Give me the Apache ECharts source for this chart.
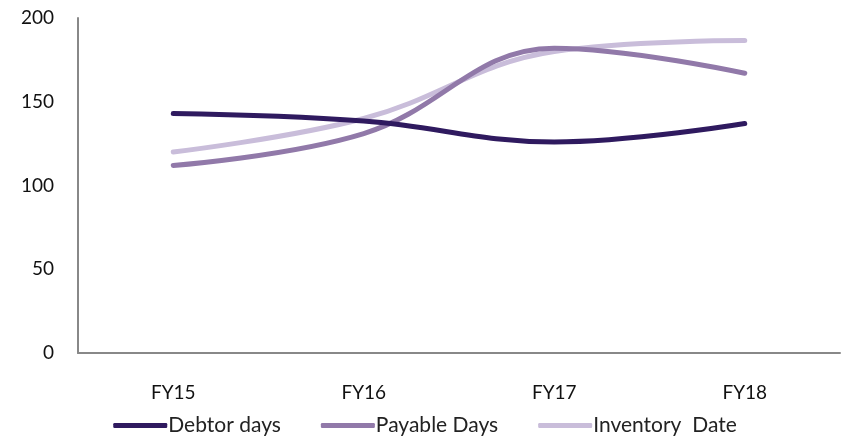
<!DOCTYPE html>
<html>
<head>
<meta charset="utf-8">
<script src="https://cdn.jsdelivr.net/npm/echarts@6/dist/echarts.min.js"></script>
<style>
  html, body { margin: 0; padding: 0; background: #fff; }
  #chart { width: 850px; height: 441px; }
</style>
</head>
<body>
<div id="chart"></div>
<script>
// Working-capital days by fiscal year
var categories = ['FY15', 'FY16', 'FY17', 'FY18'];
var debtorDays = [143, 138.5, 126, 137];
var payableDays = [112, 131, 182, 167];
var inventoryDate = [120, 140, 180, 186.5];
var yTicks = [0, 50, 100, 150, 200];

var seriesNames = ['Debtor days', 'Payable Days', 'Inventory  Date'];
var seriesColors = ['#2f1a5f', '#9179a9', '#c9bdda'];
var seriesData = [debtorDays, payableDays, inventoryDate];

var font = 'Lato, "Open Sans", sans-serif';

var chart = echarts.init(document.getElementById('chart'));
chart.setOption({
  animation: false,
  grid: { left: 78, right: 10, top: 18, bottom: 88, containLabel: false },
  legend: {
    bottom: 0,
    left: 'center',
    itemWidth: 54,
    itemHeight: 5,
    itemGap: 40,
    icon: 'roundRect',
    textStyle: { fontFamily: font, fontSize: 21, color: '#222', padding: [0, 0, 0, -4] },
    data: seriesNames
  },
  xAxis: {
    type: 'category',
    data: categories,
    boundaryGap: true,
    axisLine: { lineStyle: { color: '#888', width: 2 } },
    axisTick: { show: false },
    axisLabel: { fontFamily: font, fontSize: 19, color: '#111', margin: 30 }
  },
  yAxis: {
    type: 'value',
    min: yTicks[0],
    max: yTicks[yTicks.length - 1],
    interval: 50,
    splitLine: { show: false },
    axisLine: { show: true, lineStyle: { color: '#888', width: 2 } },
    axisTick: { show: false },
    axisLabel: { fontFamily: font, fontSize: 19, color: '#111', margin: 24 }
  },
  series: seriesNames.map(function (name, i) {
    return {
      name: name,
      type: 'line',
      data: seriesData[i],
      smooth: 0.4,
      showSymbol: false,
      symbol: 'none',
      lineStyle: { color: seriesColors[i], width: 5, cap: 'round' },
      itemStyle: { color: seriesColors[i] },
      z: 5 - i
    };
  })
});
</script>
</body>
</html>
